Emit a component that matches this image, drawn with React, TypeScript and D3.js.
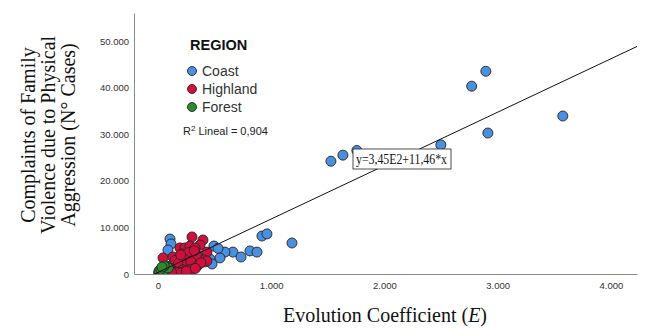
import React, { useEffect, useRef } from 'react'
import * as d3 from 'd3'

// Data
const coastX = [3575, 2895, 2770, 2913, 2498, 1756, 1633, 1527, 1183, 918, 962, 662, 733, 812, 874, 591, 547, 494, 459, 106, 115, 88, 415, 477, 371, 530, 250]
const coastY = [33900, 43500, 40300, 30250, 27700, 26500, 25500, 24200, 6650, 8150, 8600, 4700, 3650, 4950, 4700, 4700, 3450, 6000, 3200, 7500, 6450, 5150, 2600, 2150, 3850, 5500, 4800]

const highlandX = [300, 397, 371, 44, 194, 238, 282, 327, 432, 282, 221, 353, 194, 132, 309, 168, 256, 124, 406, 432, 150, 210, 270, 340, 230, 180, 260, 290, 110, 140, 220, 200, 320, 150, 180, 230, 270, 300, 200, 250, 350, 380, 120, 330]
const highlandY = [7950, 7300, 6200, 3450, 5600, 5600, 6000, 5600, 4700, 3450, 2600, 3000, 1500, 3650, 1950, 850, 1300, 1950, 3000, 2800, 2900, 4300, 4600, 4000, 3200, 2300, 2200, 2700, 1200, 600, 900, 4100, 5000, 300, 400, 500, 900, 1000, 200, 600, 1800, 2400, 300, 1200]

const forestX = [5, 15, 30, 45, 60, 20, 70, 10, 40, 50, 25, 80, 90, 55, 35]
const forestY = [250, 600, 900, 1150, 1350, 300, 950, 700, 450, 700, 1000, 1600, 1300, 1700, 1500]

const regions = ['Coast', 'Highland', 'Forest']
const regionColors = ['#4a8fe0', '#d20f3c', '#2e8a2e']

const xTicks = [0, 1000, 2000, 3000, 4000]
const yTicks = [0, 10000, 20000, 30000, 40000, 50000]

// fit line
const intercept = 345
const slope = 11.46
const fitLabel = 'y=3,45E2+11,46*x'

export default function App() {
  const ref = useRef<SVGSVGElement | null>(null)

  useEffect(() => {
    const w = 650
    const h = 329
    const svg = d3.select(ref.current)
    svg.selectAll('*').remove()

    const x = d3.scaleLinear().domain([-212, 4230]).range([134, 637])
    const y = d3.scaleLinear().domain([0, 56000]).range([274, 13])
    const fmt = (v: number) => d3.format(',')(v).replace(/,/g, '.')

    svg.append('defs').append('clipPath').attr('id', 'plotclip')
      .append('rect')
      .attr('x', x.range()[0]).attr('y', y.range()[1])
      .attr('width', x.range()[1] - x.range()[0])
      .attr('height', y.range()[0] - y.range()[1])

    // axes
    const xAxis = svg.append('g')
      .attr('transform', `translate(0,${y(0)})`)
      .call(d3.axisBottom(x).tickValues(xTicks).tickSize(0).tickPadding(8).tickFormat(d => fmt(+d)))
    const yAxis = svg.append('g')
      .attr('transform', `translate(${x.range()[0]},0)`)
      .call(d3.axisLeft(y).tickValues(yTicks).tickSize(0).tickPadding(5).tickFormat(d => fmt(+d)))
    ;[xAxis, yAxis].forEach(a => {
      a.select('.domain').attr('stroke', '#8a8a8a').attr('stroke-width', 1)
      a.selectAll('text')
        .attr('font-family', 'Liberation Sans, Arial, sans-serif')
        .attr('font-size', '9.5px')
        .attr('fill', '#333')
    })

    // points
    const series = [
      { xs: coastX, ys: coastY },
      { xs: highlandX, ys: highlandY },
      { xs: forestX, ys: forestY },
    ]
    const plot = svg.append('g').attr('clip-path', 'url(#plotclip)')
    series.forEach((s, i) => {
      plot.selectAll(`circle.s${i}`)
        .data(s.xs.map((v, j) => [v, s.ys[j]]))
        .enter()
        .append('circle')
        .attr('class', `s${i}`)
        .attr('cx', d => x(d[0]))
        .attr('cy', d => y(d[1]))
        .attr('r', 5)
        .attr('fill', regionColors[i])
        .attr('stroke', '#262626')
        .attr('stroke-width', 0.9)
    })

    // fit line
    const [x0, x1] = x.domain()
    plot.append('line')
      .attr('x1', x(x0)).attr('y1', y(intercept + slope * x0))
      .attr('x2', x(x1)).attr('y2', y(intercept + slope * x1))
      .attr('stroke', '#111')
      .attr('stroke-width', 1)

    // fit label
    const lab = svg.append('g').attr('transform', 'translate(353,149)')
    lab.append('rect')
      .attr('width', 98).attr('height', 20)
      .attr('fill', '#fff').attr('stroke', '#222').attr('stroke-width', 0.8)
    lab.append('text')
      .attr('x', 3).attr('y', 15)
      .attr('font-family', 'Liberation Serif, Times New Roman, serif')
      .attr('font-size', '14px')
      .attr('textLength', 91)
      .attr('lengthAdjust', 'spacingAndGlyphs')
      .attr('fill', '#111')
      .text(fitLabel)

    // legend
    const lg = svg.append('g').attr('font-family', 'Liberation Sans, Arial, sans-serif')
    lg.append('text')
      .attr('x', 190).attr('y', 50)
      .attr('font-size', '14.5px').attr('font-weight', 'bold').attr('fill', '#111')
      .text('REGION')
    regions.forEach((r, i) => {
      const cy = 71 + i * 18
      lg.append('circle')
        .attr('cx', 192).attr('cy', cy).attr('r', 4.5)
        .attr('fill', regionColors[i]).attr('stroke', '#262626').attr('stroke-width', 0.9)
      lg.append('text')
        .attr('x', 202).attr('y', cy + 5)
        .attr('font-size', '14px').attr('fill', '#333')
        .text(r)
    })
    const r2 = lg.append('text')
      .attr('x', 183).attr('y', 135)
      .attr('font-size', '11px').attr('fill', '#222')
    r2.append('tspan').text('R')
    r2.append('tspan').attr('dy', -4).attr('font-size', '8px').text('2')
    r2.append('tspan').attr('dy', 4).text(' Lineal = 0,904')

    // axis titles
    const serif = 'Liberation Serif, Times New Roman, serif'
    const yt = svg.append('text')
      .attr('transform', 'translate(28,135) rotate(-90)')
      .attr('text-anchor', 'middle')
      .attr('font-family', serif)
      .attr('font-size', '20px')
      .attr('fill', '#111')
    ;['Complaints of Family', 'Violence due to Physical', 'Aggression (N° Cases)'].forEach((t, i) => {
      yt.append('tspan').attr('x', 0).attr('dy', i === 0 ? 7 : 20).text(t)
    })
    const xt = svg.append('text')
      .attr('x', 385).attr('y', 322)
      .attr('text-anchor', 'middle')
      .attr('font-family', serif)
      .attr('font-size', '20px')
      .attr('fill', '#111')
    xt.append('tspan').text('Evolution Coefficient (')
    xt.append('tspan').attr('font-style', 'italic').text('E')
    xt.append('tspan').text(')')

    svg.attr('width', w).attr('height', h)
  }, [])

  return (
    <div>
      <svg ref={ref} width={650} height={329} style={{ position: 'absolute', left: 0, top: 0, background: '#fff' }} />
    </div>
  )
}
